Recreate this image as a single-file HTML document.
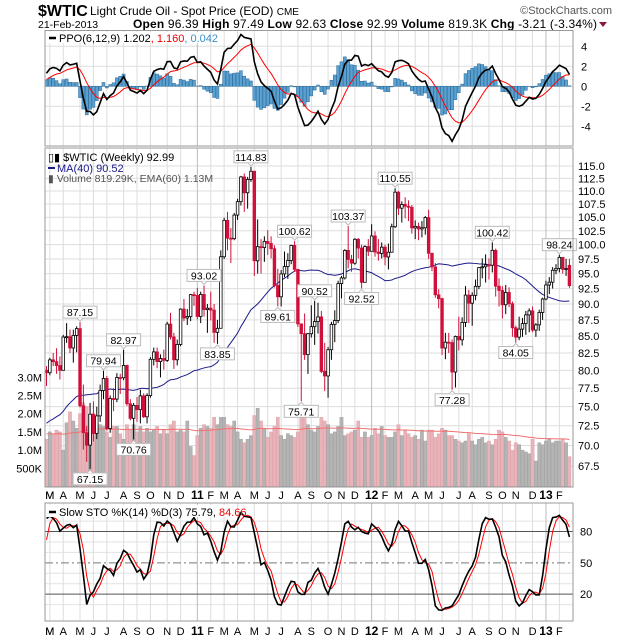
<!DOCTYPE html>
<html><head><meta charset="utf-8">
<style>
body{margin:0;background:#fff;}
svg{display:block;font-family:"Liberation Sans",sans-serif;}
</style></head>
<body>
<svg id="chart" width="620" height="639" viewBox="0 0 620 639" xmlns="http://www.w3.org/2000/svg">
<rect width="620" height="639" fill="#fff"/>
<g>
<text x="38" y="16" font-size="16" font-weight="bold">$WTIC</text>
<text x="90" y="15" font-size="12">Light Crude Oil - Spot Price (EOD) <tspan font-size="10">CME</tspan></text>
<text x="612" y="14" font-size="11" fill="#555" text-anchor="end">©StockCharts.com</text>
<text x="38" y="28" font-size="10.5">21-Feb-2013</text>
<text x="133" y="28" font-size="12" textLength="464" lengthAdjust="spacing"><tspan font-weight="bold">Open</tspan> 96.39 <tspan font-weight="bold">High</tspan> 97.49 <tspan font-weight="bold">Low</tspan> 92.63 <tspan font-weight="bold">Close</tspan> 92.99 <tspan font-weight="bold">Volume</tspan> 819.3K <tspan font-weight="bold">Chg</tspan> -3.21 (-3.34%)</text>
<path d="M599,22 L607,22 L603,27 Z" fill="#8b1a3a"/>
</g>
<g id="grid"></g>
<g id="vol"></g>
<g id="main"></g>
<g id="ppo"></g>
<g id="sto"></g>
<g id="axes"></g>
<g id="frames" fill="none" stroke="#999">
<rect x="45" y="30.5" width="528" height="115.5"/>
<rect x="45" y="148" width="528" height="339"/>
<rect x="45" y="503" width="528" height="118"/>
</g>
<g font-size="11">
<rect x="47" y="32" width="160" height="11" fill="#fff"/>
<line x1="49" y1="38" x2="56" y2="38" stroke="#000" stroke-width="2.5"/>
<text x="59" y="42">PPO(6,12,9) 1.202<tspan fill="#e00">, 1.160</tspan><tspan fill="#3a8fc8">, 0.042</tspan></text>
<text x="48" y="161" font-size="11">▯▮ $WTIC (Weekly) 92.99</text>
<line x1="48" y1="168" x2="55" y2="168" stroke="#1a1a8c" stroke-width="2"/>
<text x="57" y="172" fill="#1a1a8c">MA(40) 90.52</text>
<text x="48" y="182" fill="#555" font-size="10.5">▮ Volume 819.29K, EMA(60) 1.13M</text>
<rect x="47" y="505" width="185" height="12" fill="#fff"/>
<line x1="49" y1="512" x2="56" y2="512" stroke="#000" stroke-width="2.5"/>
<text x="59" y="516">Slow STO %K(14) %D(3) 75.79, <tspan fill="#e00">84.66</tspan></text>
</g>
</svg>
<script>
const closes=[79.66,81.50,81.24,80.68,80.00,84.87,84.92,83.24,85.12,86.15,75.11,71.61,70.04,74.00,71.51,73.78,77.18,78.86,72.14,76.09,76.01,78.98,78.95,80.70,75.39,73.46,75.17,74.60,76.45,73.66,76.49,81.58,82.66,81.25,81.69,81.43,86.85,84.88,81.51,83.76,89.19,87.79,88.02,91.51,91.38,
88.03,91.54,89.11,89.34,89.03,85.58,86.20,97.88,104.42,101.16,101.07,105.40,107.94,112.79,109.66,112.29,113.93,97.18,99.65,99.49,100.59,100.22,99.29,93.01,91.16,94.94,96.20,97.24,99.87,95.70,86.88,85.38,82.26,85.37,86.45,87.24,87.96,79.85,79.20,82.98,86.80,87.40,93.32,94.26,98.99,97.41,96.77,100.96,99.41,93.53,99.68,98.83,
101.56,98.70,98.46,99.56,97.84,98.67,103.24,109.77,106.70,107.40,107.06,106.87,103.02,103.31,102.83,103.05,104.93,98.49,96.13,91.48,90.86,83.23,84.10,84.03,79.76,84.96,84.45,87.10,91.44,90.13,91.40,92.87,96.01,96.15,96.47,96.42,99.00,92.89,92.19,89.88,91.86,90.05,86.28,84.86,86.07,86.92,88.28,88.91,85.93,86.73,88.66,90.80,
93.09,93.56,95.56,95.88,97.77,95.72,95.86,92.99];
const highs=[80.6,81.8,82.5,83.2,82.0,85.2,87.0,86.0,86.0,86.5,87.15,78.0,72.5,75.5,75.7,75.0,78.0,79.94,79.2,76.5,77.5,79.6,79.5,82.97,80.8,76.0,75.5,76.3,77.3,76.8,76.8,81.9,83.3,83.3,82.3,83.0,87.2,88.6,85.5,84.5,89.3,90.8,89.2,91.6,92.0,
92.6,92.0,93.02,90.0,92.0,90.0,87.5,99.0,104.9,106.0,103.0,105.8,108.5,113.0,113.5,112.8,114.83,114.0,104.6,101.0,101.5,102.6,101.5,99.9,95.8,95.6,98.8,98.5,100.0,100.62,95.8,86.8,88.5,85.5,89.8,90.52,90.2,88.9,84.0,83.4,87.2,89.0,93.8,94.6,99.2,103.37,98.2,101.2,101.2,100.0,99.9,101.0,
103.7,102.4,101.0,100.4,100.0,100.2,103.8,110.55,110.0,108.0,108.8,108.2,107.3,104.4,104.0,104.3,105.2,106.4,98.4,96.8,92.4,91.0,85.5,85.5,84.5,85.1,88.0,87.9,92.9,92.3,91.9,94.0,96.1,97.6,98.3,97.6,100.42,99.3,94.2,92.9,93.1,92.7,90.4,86.6,88.0,87.8,88.9,89.3,89.6,87.0,89.1,91.0,
93.8,94.4,96.1,96.6,98.24,97.7,97.5,97.49];
const lows=[77.8,79.3,80.6,79.5,78.7,80.1,84.0,82.5,81.1,82.6,74.9,69.5,68.0,67.15,70.5,70.8,73.0,76.0,71.9,71.6,74.4,75.6,76.7,78.6,75.1,73.2,70.76,73.0,72.8,73.5,72.8,76.2,80.7,80.3,79.0,80.1,81.2,84.5,80.2,80.7,83.5,87.3,86.7,87.3,89.7,
87.6,87.0,88.0,85.5,87.4,84.0,83.85,86.5,97.5,99.0,96.8,100.8,104.5,107.2,106.0,106.6,111.8,94.6,95.0,95.0,97.0,98.2,97.6,92.7,89.61,89.6,94.4,94.1,96.6,95.3,86.4,75.71,81.5,79.5,84.8,83.7,85.4,79.6,77.1,76.2,81.5,84.1,87.0,90.9,94.0,95.9,95.3,96.5,97.6,92.52,93.5,98.0,
98.8,97.9,97.2,97.6,96.4,95.7,98.6,103.0,105.4,104.0,104.8,104.3,102.0,101.0,100.8,101.3,101.8,97.5,95.4,91.0,89.3,82.2,81.6,82.5,77.28,77.6,82.9,83.6,86.4,87.0,86.6,90.6,92.4,94.2,93.5,94.0,95.2,91.2,89.6,87.7,88.4,89.5,84.9,84.05,84.4,84.9,85.2,85.6,85.6,84.9,85.8,87.5,
90.6,91.6,92.5,94.9,95.2,95.0,94.6,92.63];
const firstOpen=80.0;
const lastOpen=96.39;
const volumesK=[1300,1500,1450,1550,1500,1000,1750,2050,1800,1600,2000,2300,2200,1950,2000,1600,1700,1650,1500,1350,1650,1650,1450,1300,1700,1550,1700,1500,1650,1500,1600,1500,1550,1650,1450,1550,1450,1700,1800,1500,1550,1500,1800,1100,850,
1400,1600,1700,1650,1600,1900,1700,1900,1900,1700,1650,1800,1500,1300,1200,1300,1400,1950,2150,1800,1600,1350,1500,1650,1900,1400,1300,1450,1400,1350,1500,1900,2050,1700,1550,1500,1650,1900,1800,1700,1450,1500,1650,1900,1400,1450,1500,1550,1800,1350,1500,1350,
1400,1600,1450,1650,1400,1350,1350,1500,1700,1400,1550,1450,1350,1400,1300,1550,1250,1550,1550,1350,1450,1600,1550,1400,1400,1300,1250,1200,1250,1450,1250,1150,1300,1350,1200,1250,1150,1300,1550,1500,1350,1250,1000,1200,1150,1000,950,900,1300,700,1200,1150,
1250,1300,1200,1250,1250,1300,1200,820];
const priorCloses=[66.3,68.4,72.0,68.7,69.6,66.7,60.4,63.6,68.1,68.0,69.5,70.9,67.5,72.4,69.0,72.0,66.0,69.9,70.8,71.8,78.5,79.6,77.0,79.9,77.5,76.4,77.0,70.5,69.9,73.4,78.8,79.4,80.2,78.0,74.5,72.9,71.2,74.1,79.2,79.8];
const priceTicks=[67.5,70,72.5,75,77.5,80,82.5,85,87.5,90,92.5,95,97.5,100,102.5,105,107.5,110,112.5,115];
const volTicksK=[500,1000,1500,2000,2500,3000];
const volTickLabels=['500K','1.0M','1.5M','2.0M','2.5M','3.0M'];
const ppoTicks=[4,2,0,-2,-4];
const stoTicks=[80,50,20];
const calloutVals=[87.15,67.15,79.94,82.97,70.76,93.02,83.85,114.83,89.61,100.62,75.71,90.52,103.37,92.52,110.55,77.28,100.42,84.05,98.24];
const calloutIdx=[10,13,17,23,26,47,51,61,69,74,76,80,90,94,104,121,133,140,153];

const NS='http://www.w3.org/2000/svg';
const X0=46.5,DX=3.352;
const xs=i=>X0+i*DX;
const py=p=>166+(Math.log(115)-Math.log(p))*563;
const vy=v=>486.5-v*0.0364;
const ppoY=v=>86.3-v*10;
const stoY=v=>615-v*1.043;
function mk(tag,attrs,parent){const e=document.createElementNS(NS,tag);for(const k in attrs)e.setAttribute(k,attrs[k]);parent.appendChild(e);return e;}
const G=id=>document.getElementById(id);
const n=closes.length;
const opens=closes.map((c,i)=>i===0?firstOpen:(i===n-1?lastOpen:closes[i-1]));

const grid=G('grid');
priceTicks.forEach(t=>{const l=mk('line',{x1:45,x2:573,y1:py(t),y2:py(t),stroke:'#ddd'},grid);

});
[4,2,0,-2,-4].forEach(t=>{const l=mk('line',{x1:45,x2:573,y1:ppoY(t),y2:ppoY(t),stroke:'#ddd'},grid);

});
for(let t=10;t<100;t+=10){if(t===20||t===50||t===80)continue;const l=mk('line',{x1:45,x2:573,y1:stoY(t),y2:stoY(t),stroke:'#e2e2e2'},grid);

}
const mNames='JFMAMJJASOND';
const start=new Date(Date.UTC(2010,1,26));
const axes=G('axes');
let prevM=-1;
for(let i=0;i<n;i++){const d=new Date(start.getTime()+i*7*864e5);const m=d.getUTCMonth();
 if(m!==prevM&&i>0){const x=xs(i);const yr=m===0;
  [[30.5,146],[148,487],[503,621]].forEach(r=>{const l=mk('line',{x1:x,x2:x,y1:r[0],y2:r[1],stroke:yr?'#bbb':'#ddd'},grid);
  
  });
  const lab=yr?String(d.getUTCFullYear()).slice(2):mNames[m];
  [499,635].forEach(y=>{const t=mk('text',{x:x,y:y,'font-size':yr?12:11,'font-weight':yr?'bold':'normal','text-anchor':'middle'},axes);t.textContent=lab;
  
  });
 }
 prevM=m;}
[499,635].forEach(y=>{const t=mk('text',{x:xs(1),y:y,'font-size':11,'text-anchor':'middle'},axes);t.textContent='M';

});

const vol=G('vol');
volumesK.forEach((v,i)=>{const down=closes[i]<(i?closes[i-1]:firstOpen);
 const r=mk('rect',{x:xs(i)-1.6,y:vy(v),width:3.2,height:486.5-vy(v),fill:down?'#e8b4ba':'#b4b4b4',stroke:down?'#d89aa2':'#9a9a9a','stroke-width':0.4},vol);
 
 });
let ev=1450;const k60=2/61;const evs=volumesK.map(v=>(ev=v*k60+ev*(1-k60)));
const evl=mk('polyline',{points:evs.map((v,i)=>xs(i)+','+vy(v)).join(' '),fill:'none',stroke:'#f07070','stroke-width':1},vol);


volTicksK.forEach((t,j)=>{const tx=mk('text',{x:42,y:vy(t)+4,'font-size':11,'text-anchor':'end'},axes);tx.textContent=volTickLabels[j];

});

const all=priorCloses.concat(closes);const P=priorCloses.length;
const ma=closes.map((c,i)=>{let s=0;for(let j=P+i-39;j<=P+i;j++)s+=all[j];return s/40;});
const main=G('main');
const mal=mk('polyline',{points:ma.map((v,i)=>xs(i)+','+py(v)).join(' '),fill:'none',stroke:'#1a1a8c','stroke-width':1},main);


closes.forEach((c,i)=>{const o=opens[i];const prev=i?closes[i-1]:firstOpen;const col=c<prev?'#d0103a':'#000';
 const g=mk('g',{},main);
 
 
 mk('line',{x1:xs(i),x2:xs(i),y1:py(highs[i]),y2:py(lows[i]),stroke:col,'stroke-width':1},g);
 const top=py(Math.max(o,c)),bot=py(Math.min(o,c));
 mk('rect',{x:xs(i)-1.3,y:top,width:2.6,height:Math.max(1,bot-top),fill:c<o?col:'#fff',stroke:col,'stroke-width':0.8},g);});
calloutVals.forEach((v,j)=>{const i=calloutIdx[j];const isHigh=Math.abs(highs[i]-v)<0.01;const x=xs(i);const y=py(v);
 const g=mk('g',{},main);
 
 
 const w=34,h=12;const by=isHigh?y-h-4:y+4;
 mk('rect',{x:x-w/2,y:by,width:w,height:h,fill:'#fff',stroke:'#bbb'},g);
 mk('path',{d:isHigh?`M${x-3},${by+h} L${x},${y-1} L${x+3},${by+h}`:`M${x-3},${by} L${x},${y+1} L${x+3},${by}`,fill:'#fff',stroke:'#bbb'},g);
 const t=mk('text',{x:x,y:by+10,'font-size':10.5,'text-anchor':'middle'},g);t.textContent=v.toFixed(2);});
priceTicks.forEach(t=>{const tx=mk('text',{x:578,y:py(t)+4,'font-size':11},axes);tx.textContent=t.toFixed(1);

});

function ema(arr,p,seed){const k=2/(p+1);let e=seed;return arr.map(v=>(e=v*k+e*(1-k)));}
const e6=ema(all,6,all[0]),e12=ema(all,12,all[0]);
const ppoAll=all.map((v,i)=>(e6[i]-e12[i])/e12[i]*100);
const sigAll=ema(ppoAll,9,ppoAll[0]);
const ppo=ppoAll.slice(P),sig=sigAll.slice(P);
const pg=G('ppo');
ppo.forEach((v,i)=>{const h=v-sig[i];const y0=ppoY(0),y1=ppoY(h);
 const r=mk('rect',{x:xs(i)-1.5,y:Math.min(y0,y1),width:3,height:Math.abs(y1-y0),fill:'#5aa0d0',stroke:'#2a6a9a','stroke-width':0.5},pg);
 
 });
const sl=mk('polyline',{points:sig.map((v,i)=>xs(i)+','+ppoY(v)).join(' '),fill:'none',stroke:'#f00','stroke-width':1},pg);


const pl=mk('polyline',{points:ppo.map((v,i)=>xs(i)+','+ppoY(v)).join(' '),fill:'none',stroke:'#000','stroke-width':1.6},pg);


ppoTicks.forEach(t=>{const tx=mk('text',{x:581,y:ppoY(t)+4,'font-size':11},axes);tx.textContent=String(t);

});

const allH=priorCloses.concat(highs),allL=priorCloses.concat(lows);
const fk=all.map((c,i)=>{let hh=-1e9,ll=1e9;for(let j=Math.max(0,i-13);j<=i;j++){hh=Math.max(hh,allH[j]);ll=Math.min(ll,allL[j]);}return hh===ll?50:(c-ll)/(hh-ll)*100;});
const sma=(a,p)=>a.map((v,i)=>{let s=0,c=0;for(let j=Math.max(0,i-p+1);j<=i;j++){s+=a[j];c++;}return s/c;});
const sk=sma(fk,3),sd=sma(sk,3);
const skv=sk.slice(P),sdv=sd.slice(P);
const sg=G('sto');
const l80=mk('line',{x1:45,x2:573,y1:stoY(80),y2:stoY(80),stroke:'#555'},sg);


const l20=mk('line',{x1:45,x2:573,y1:stoY(20),y2:stoY(20),stroke:'#555'},sg);


const l50=mk('line',{x1:45,x2:573,y1:stoY(50),y2:stoY(50),stroke:'#777','stroke-dasharray':'8,3,2,3'},sg);


const dl=mk('polyline',{points:sdv.map((v,i)=>xs(i)+','+stoY(v)).join(' '),fill:'none',stroke:'#f00','stroke-width':1},sg);


const kl=mk('polyline',{points:skv.map((v,i)=>xs(i)+','+stoY(v)).join(' '),fill:'none',stroke:'#000','stroke-width':1.6},sg);


stoTicks.forEach(t=>{const tx=mk('text',{x:580,y:stoY(t)+4,'font-size':11},axes);tx.textContent=String(t);

});
</script>
</body></html>
